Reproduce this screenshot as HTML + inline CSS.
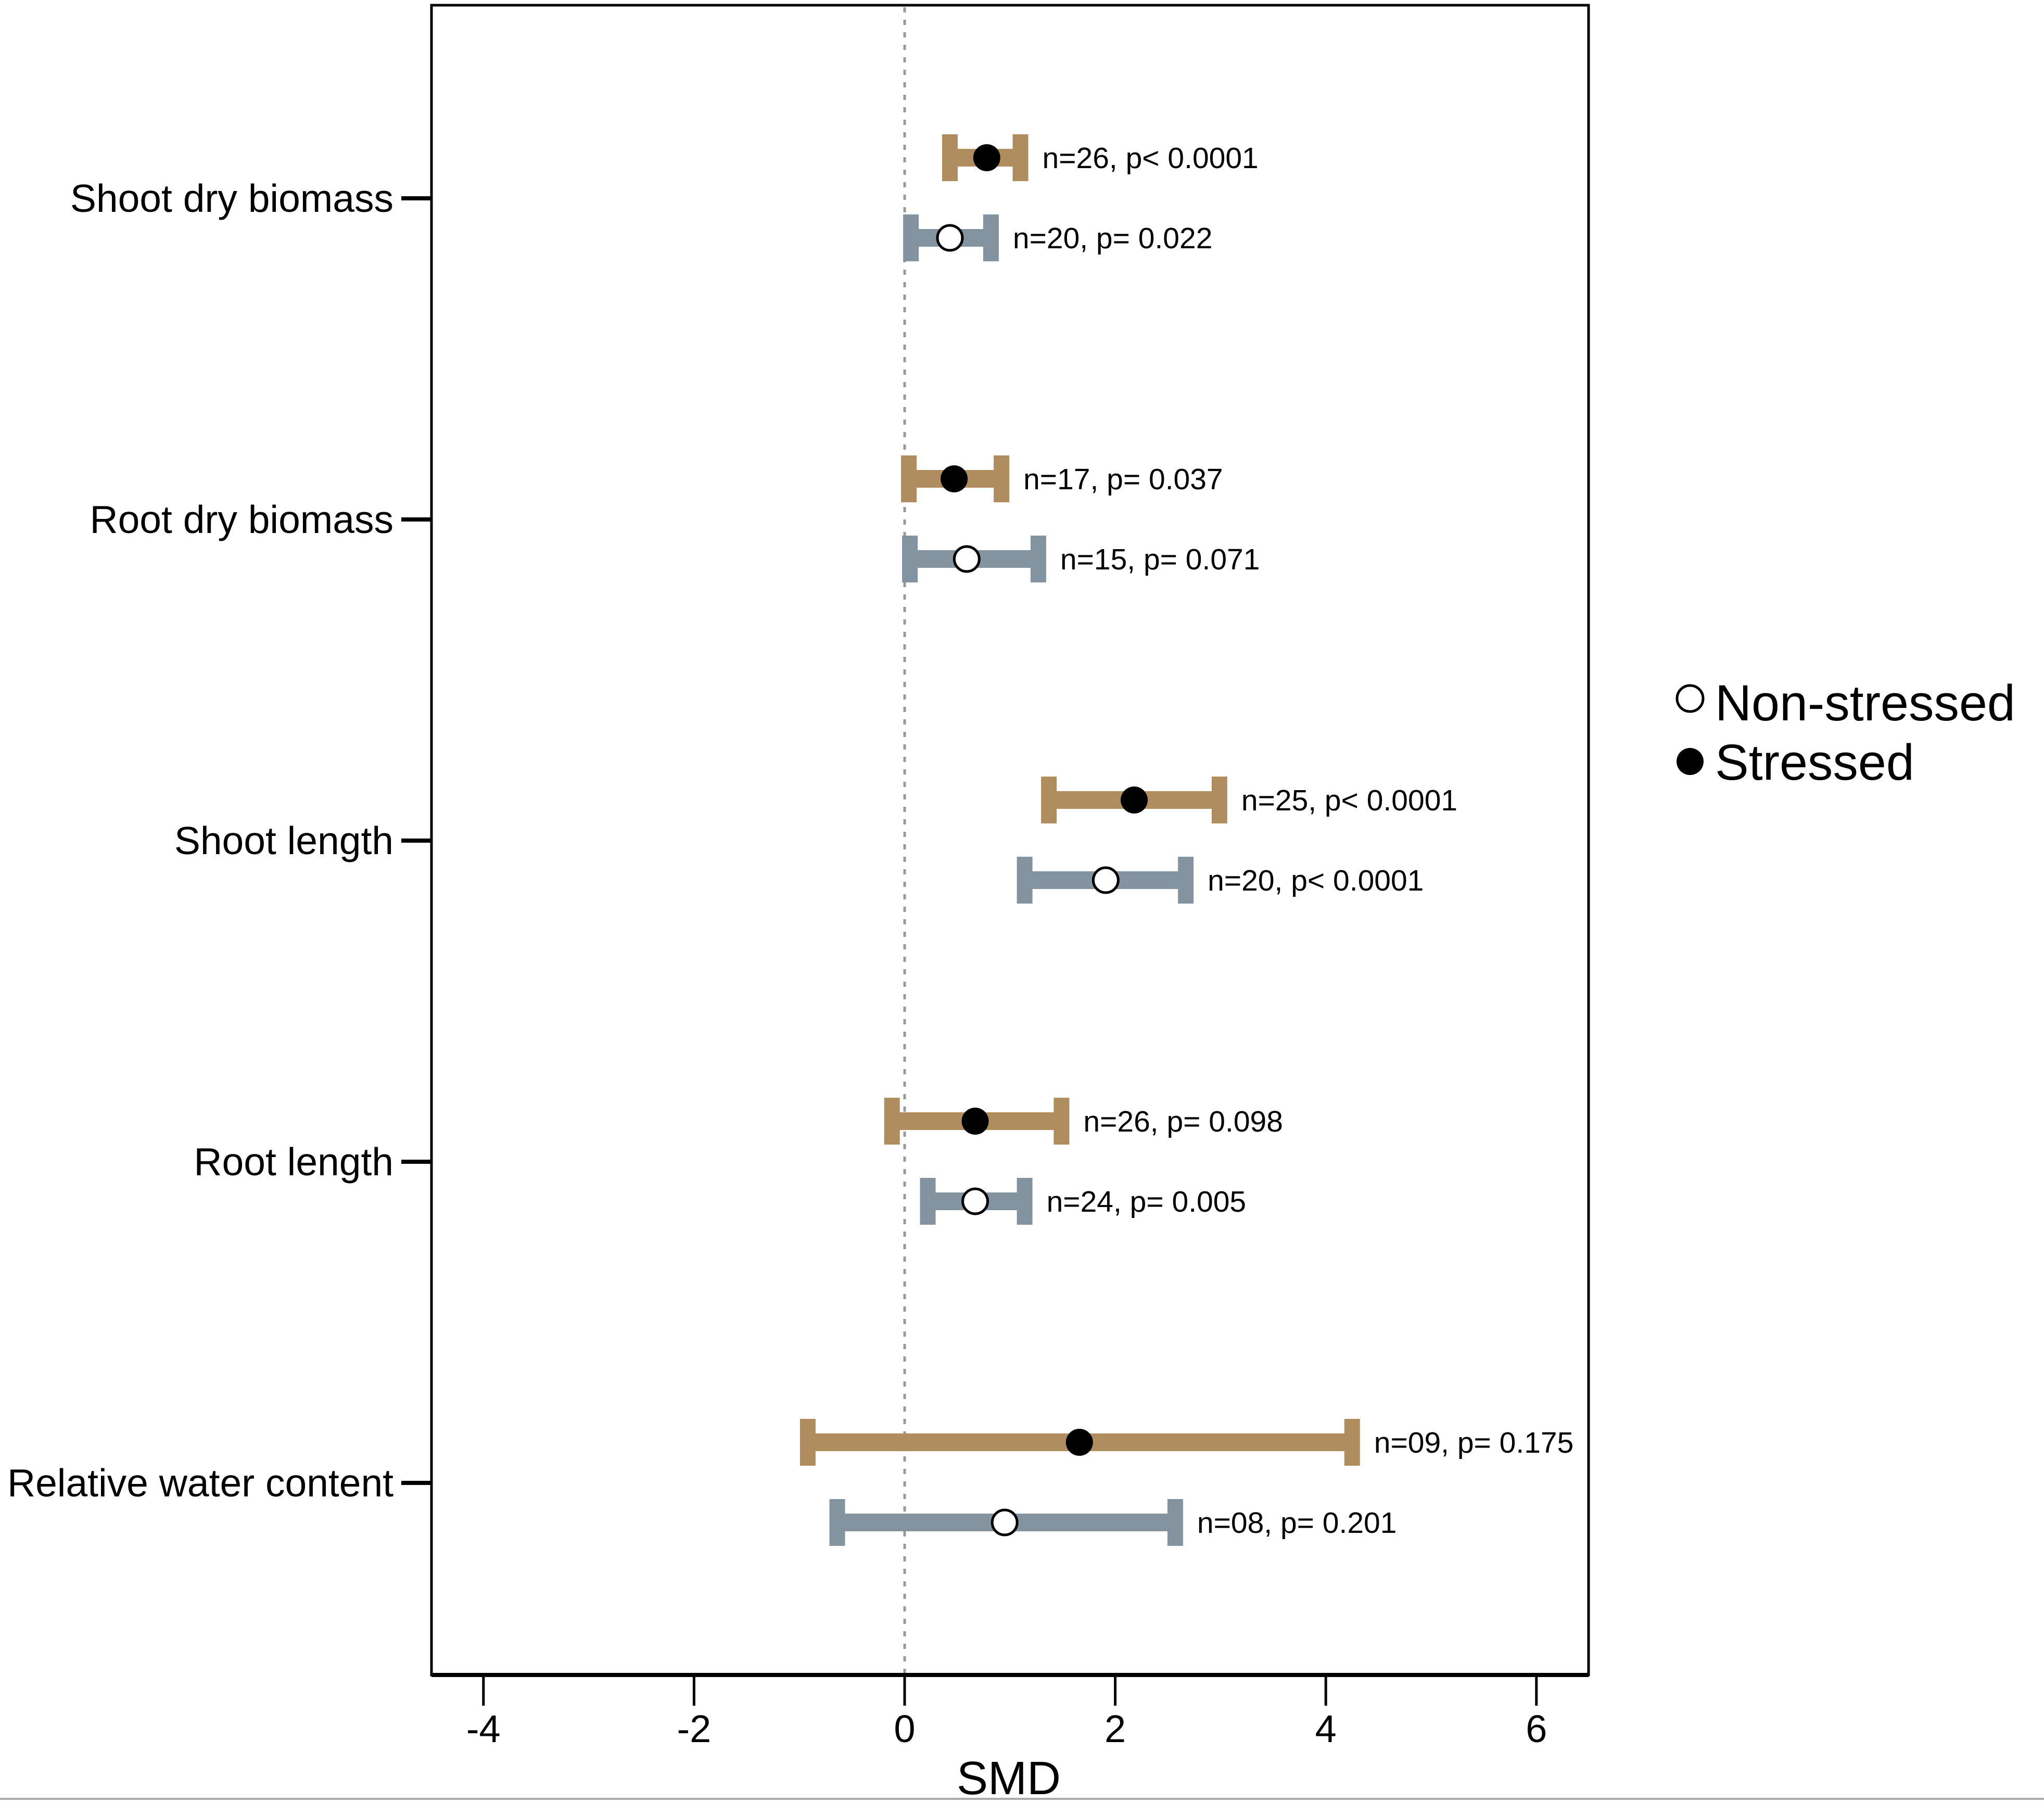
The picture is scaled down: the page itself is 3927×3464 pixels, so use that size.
<!DOCTYPE html>
<html><head><meta charset="utf-8"><style>
html,body{margin:0;padding:0;background:#fff;}
svg{display:block;font-family:"Liberation Sans",sans-serif;}
</style></head><body>
<svg id="chart" width="3927" height="3464" viewBox="0 0 3927 3464">
<rect x="829" y="10" width="2223" height="3208" fill="none" stroke="#000" stroke-width="5"/>
<line x1="829" y1="3218" x2="3052" y2="3218" stroke="#000" stroke-width="8"/>
<line x1="0" y1="3456" x2="3927" y2="3456" stroke="#aaa" stroke-width="4"/>
<g id="xaxis"></g>
<g id="yaxis"></g>
<g id="marks"></g>
<text x="1938" y="3447" font-size="90" text-anchor="middle">SMD</text>
<g>
<circle cx="3247" cy="1342" r="25" fill="#fff" stroke="#000" stroke-width="5"/>
<text x="3295" y="1384" font-size="97">Non-stressed</text>
<circle cx="3247" cy="1463" r="26" fill="#000"/>
<text x="3295" y="1498" font-size="97">Stressed</text>
</g>
</svg>
<script>
const categories = ["Shoot dry biomass","Root dry biomass","Shoot length","Root length","Relative water content"];
const stressedMean = [0.78, 0.47, 2.18, 0.67, 1.66];
const stressedLo = [0.43, 0.04, 1.37, -0.12, -0.92];
const stressedHi = [1.10, 0.92, 2.99, 1.49, 4.25];
const stressedLabels = ["n=26, p< 0.0001","n=17, p= 0.037","n=25, p< 0.0001","n=26, p= 0.098","n=09, p= 0.175"];
const nsMean = [0.43, 0.59, 1.91, 0.67, 0.95];
const nsLo = [0.06, 0.05, 1.14, 0.22, -0.64];
const nsHi = [0.82, 1.27, 2.67, 1.14, 2.57];
const nsLabels = ["n=20, p= 0.022","n=15, p= 0.071","n=20, p< 0.0001","n=24, p= 0.005","n=08, p= 0.201"];
const xTicks = [-4, -2, 0, 2, 4, 6];

const NS = "http://www.w3.org/2000/svg";
function x(v){ return 1738 + v * 202.3; }
function yCat(i){ return 381 + i * 617; }
function mk(tag, attrs, parent){
  const e = document.createElementNS(NS, tag);
  for (const k in attrs) e.setAttribute(k, attrs[k]);
  parent.appendChild(e);
  return e;
}
const xa = document.getElementById('xaxis');
const ya = document.getElementById('yaxis');
const mg = document.getElementById('marks');

let z = mk('line', {x1:x(0), y1:14, x2:x(0), y2:3214, stroke:'#999', 'stroke-width':5, 'stroke-dasharray':'10 14'}, mg);



xTicks.forEach(t => {
  const l = mk('line', {x1:x(t), y1:3218, x2:x(t), y2:3277, stroke:'#000', 'stroke-width':5}, xa);
  
  
  const tx = mk('text', {x:x(t), y:3347, 'font-size':74, 'text-anchor':'middle'}, xa);
  tx.textContent = t;
  
  
});

categories.forEach((c, i) => {
  const y = yCat(i);
  const l = mk('line', {x1:771, y1:y, x2:829, y2:y, stroke:'#000', 'stroke-width':8}, ya);
  
  
  const tx = mk('text', {x:756, y:y+26, 'font-size':75, 'text-anchor':'end'}, ya);
  tx.textContent = c;
  
  
});

function drawRow(y, lo, hi, mean, label, color, filled, name){
  const g = mk('g', {}, mg);
  
  
  const b = mk('line', {x1:x(lo), y1:y, x2:x(hi), y2:y, stroke:color, 'stroke-width':34}, g);
  
  
  [lo, hi].forEach(v => {
    const r = mk('rect', {x:x(v)-15, y:y-45, width:30, height:90, fill:color}, g);
    
    
  });
  const p = mk('circle', {cx:x(mean), cy:y, r:filled?26:24, fill:filled?'#000':'#fff', stroke:'#000', 'stroke-width':filled?0:5}, g);
  
  
  const t = mk('text', {x:x(hi)+42, y:y+20, 'font-size':57}, g);
  t.textContent = label;
  
  
}
categories.forEach((c, i) => {
  const y = yCat(i);
  drawRow(y-78, stressedLo[i], stressedHi[i], stressedMean[i], stressedLabels[i], '#b08d5f', true, 'stressed-row');
  drawRow(y+76, nsLo[i], nsHi[i], nsMean[i], nsLabels[i], '#8393a0', false, 'non-stressed-row');
});
</script>
</body></html>
